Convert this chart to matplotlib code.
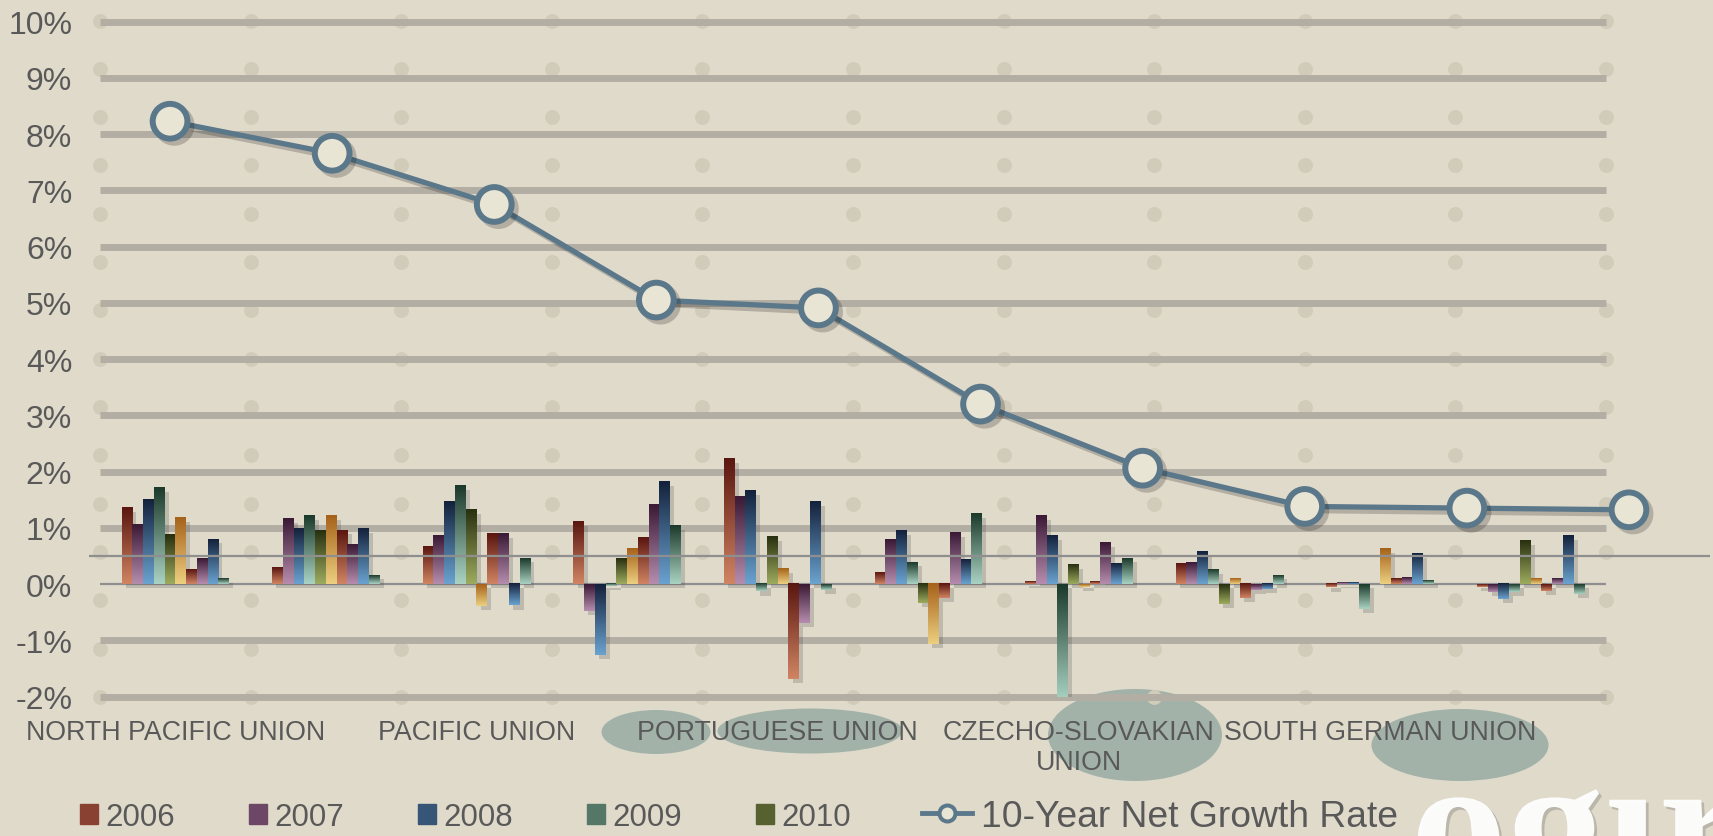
import matplotlib
matplotlib.use('Agg')
import numpy as np
import matplotlib.pyplot as plt
import matplotlib.patheffects as pe
from matplotlib.patches import Ellipse, Rectangle
from matplotlib.lines import Line2D
from matplotlib.colors import LinearSegmentedColormap, to_rgb

plt.rcParams['font.family'] = ['Liberation Sans', 'DejaVu Sans']

# category labels (only every other one is printed on the original)
unions = ['NORTH PACIFIC UNION', '', 'PACIFIC UNION', '', 'PORTUGUESE UNION', '',
          'CZECHO-SLOVAKIAN\nUNION', '', 'SOUTH GERMAN UNION', '']
years = ['2006', '2007', '2008', '2009', '2010', '2011', '2012', '2013', '2014', '2015']

# annual growth, % (one list per year, one value per union)
y2006 = [1.36, 0.30, 0.66, 1.11, 2.23, 0.21, 0.04, 0.36, -0.06, -0.05]
y2007 = [1.05, 1.16, 0.86, -0.48, 1.55, 0.80, 1.21, 0.39, 0.03, -0.14]
y2008 = [1.50, 0.98, 1.46, -1.26, 1.66, 0.95, 0.86, 0.57, 0.03, -0.27]
y2009 = [1.71, 1.21, 1.75, -0.04, -0.13, 0.39, -2.07, 0.25, -0.44, -0.14]
y2010 = [0.88, 0.95, 1.32, 0.45, 0.84, -0.34, 0.34, -0.35, 0.00, 0.77]
y2011 = [1.18, 1.21, -0.39, 0.64, 0.27, -1.07, -0.05, 0.09, 0.63, 0.09]
y2012 = [0.25, 0.96, 0.89, 0.82, -1.69, -0.25, 0.05, -0.25, 0.09, -0.12]
y2013 = [0.46, 0.70, 0.89, 1.41, -0.69, 0.91, 0.73, -0.10, 0.11, 0.09]
y2014 = [0.80, 0.98, -0.38, 1.82, 1.46, 0.43, 0.36, -0.09, 0.54, 0.86]
y2015 = [0.09, 0.16, 0.46, 1.04, -0.10, 1.25, 0.46, 0.16, 0.07, -0.17]

# 10-year net growth rate, %
growth_10yr = [8.23, 7.66, 6.75, 5.05, 4.91, 3.20, 2.06, 1.38, 1.35, 1.32]

series = [y2006, y2007, y2008, y2009, y2010, y2011, y2012, y2013, y2014, y2015]

# (top, bottom) gradient colours, cycling every 6 series
palette = [
    ('#5a1610', '#d08462'),
    ('#3b1a36', '#b58cad'),
    ('#14223c', '#6aa2cf'),
    ('#1c3a2b', '#a9d2c2'),
    ('#283010', '#9dab5e'),
    ('#a6621a', '#eccf80'),
]

txt = '#595959'
line_col = '#5b788b'
face_col = '#e9e5d5'
W, H = 1713, 837

fig = plt.figure(figsize=(W / 100, H / 100), dpi=100, facecolor='#e0daca')

# background decoration
bg = fig.add_axes([0, 0, 1, 1], zorder=-1)
bg.set_xlim(0, W)
bg.set_ylim(H, 0)
bg.axis('off')
for cx, cy, ew, eh in [(656, 733, 109, 44), (810, 732, 185, 45),
                       (1135, 736, 174, 92), (1460, 746, 177, 72)]:
    bg.add_patch(Ellipse((cx, cy), ew, eh, color='#97aca3', alpha=0.85, lw=0))
bg.text(1410, 890, 'og\u0131r', fontsize=140, family=['Liberation Serif', 'DejaVu Serif'],
        color='white', fontweight='bold', va='baseline', alpha=0.95, clip_on=True,
        path_effects=[pe.withSimplePatchShadow(offset=(2, -2), alpha=0.25)])

bottom = 1 - 697.5 / H
top = 1 - 22.7 / H
ax = fig.add_axes([100 / W, bottom, 1506 / W, top - bottom])
ax.set_facecolor('none')

n = len(unions)
x = np.arange(n)
bw = 0.714 / len(series)

# dotted background pattern
dx = np.arange(-0.5, n, 1.0)
dy = 10.02 - 0.859 * np.arange(15)
DX, DY = np.meshgrid(dx, dy)
ax.scatter(DX.ravel(), DY.ravel(), s=115, color='#d1cbba', lw=0, zorder=0.5, clip_on=False)

for v in range(-2, 11):
    if v != 0:
        ax.axhline(v, color='#b3aea4', lw=5, zorder=1, clip_on=False, solid_capstyle='butt')
ax.axhline(0, color='#8f8f8f', lw=1.6, zorder=2)

grad = np.linspace(0, 1, 64).reshape(-1, 1)
for i, vals in enumerate(series):
    tc, bc = palette[i % len(palette)]
    cmap = LinearSegmentedColormap.from_list('g%d' % i, [bc, tc])
    offs = (i - (len(series) - 1) / 2) * bw
    bars = ax.bar(x + offs, vals, bw, color=tc, zorder=2.5,
                  path_effects=[pe.SimplePatchShadow(offset=(3, -3), shadow_rgbFace='#444444', alpha=0.22),
                                pe.Normal()])
    for r in bars:
        y0 = min(r.get_y(), r.get_y() + r.get_height())
        y1 = max(r.get_y(), r.get_y() + r.get_height())
        ax.imshow(grad, extent=(r.get_x(), r.get_x() + r.get_width(), y0, y1),
                  origin='lower', cmap=cmap, aspect='auto', zorder=3, interpolation='bilinear')

ax.set_xlim(-0.5, n - 0.5)
ax.set_ylim(-2, 10)
ax.set_yticks(range(-2, 11))
ax.set_yticklabels(['%d%%' % v for v in range(-2, 11)])
ax.set_xticks(x)
ax.set_xticklabels(unions)
ax.tick_params(axis='y', length=0, pad=20, labelsize=23, labelcolor=txt)
ax.tick_params(axis='x', length=0, pad=16, labelsize=19.3, labelcolor=txt)
for s in ax.spines.values():
    s.set_visible(False)

# secondary category axis for the growth line
ax2 = fig.add_axes([89 / W, bottom, 1621 / W, top - bottom])
ax2.set_facecolor('none')
ax2.set_xlim(-0.5, n - 0.5)
ax2.set_ylim(-2, 10)
ax2.axis('off')
ax2.axhline(0.5, color='#8f8f8f', lw=1.6, zorder=1)
ax2.plot(x, growth_10yr, color=line_col, lw=3.8, marker='o', ms=25, mfc=face_col,
         mec=line_col, mew=4.3, zorder=3, clip_on=False,
         path_effects=[pe.SimpleLineShadow(offset=(3, -3), alpha=0.2), pe.Normal()])

# legend
def mix(a, b, t=0.4):
    a, b = np.array(to_rgb(a)), np.array(to_rgb(b))
    return tuple(a * (1 - t) + b * t)

handles = [Rectangle((0, 0), 1, 1, color=mix(*palette[i])) for i in range(5)]
fig.legend(handles, years[:5], loc='center left', bbox_to_anchor=(80 / W, 1 - 818 / H),
           ncol=5, frameon=False, fontsize=22.5, handlelength=0.58, handleheight=0.58,
           handletextpad=0.22, columnspacing=2.38, borderpad=0, borderaxespad=0,
           labelcolor=txt)
lh = Line2D([], [], color=line_col, lw=3.5, marker='o', ms=11.5, mfc=face_col, mec=line_col, mew=2.9)
fig.legend([lh], ['10-Year Net Growth Rate'], loc='center left',
           bbox_to_anchor=(922 / W, 1 - 818 / H), frameon=False, fontsize=26.8,
           handlelength=1.33, handletextpad=0.25, borderpad=0, borderaxespad=0, labelcolor=txt)

fig.savefig('out.png', dpi=100, facecolor=fig.get_facecolor())
